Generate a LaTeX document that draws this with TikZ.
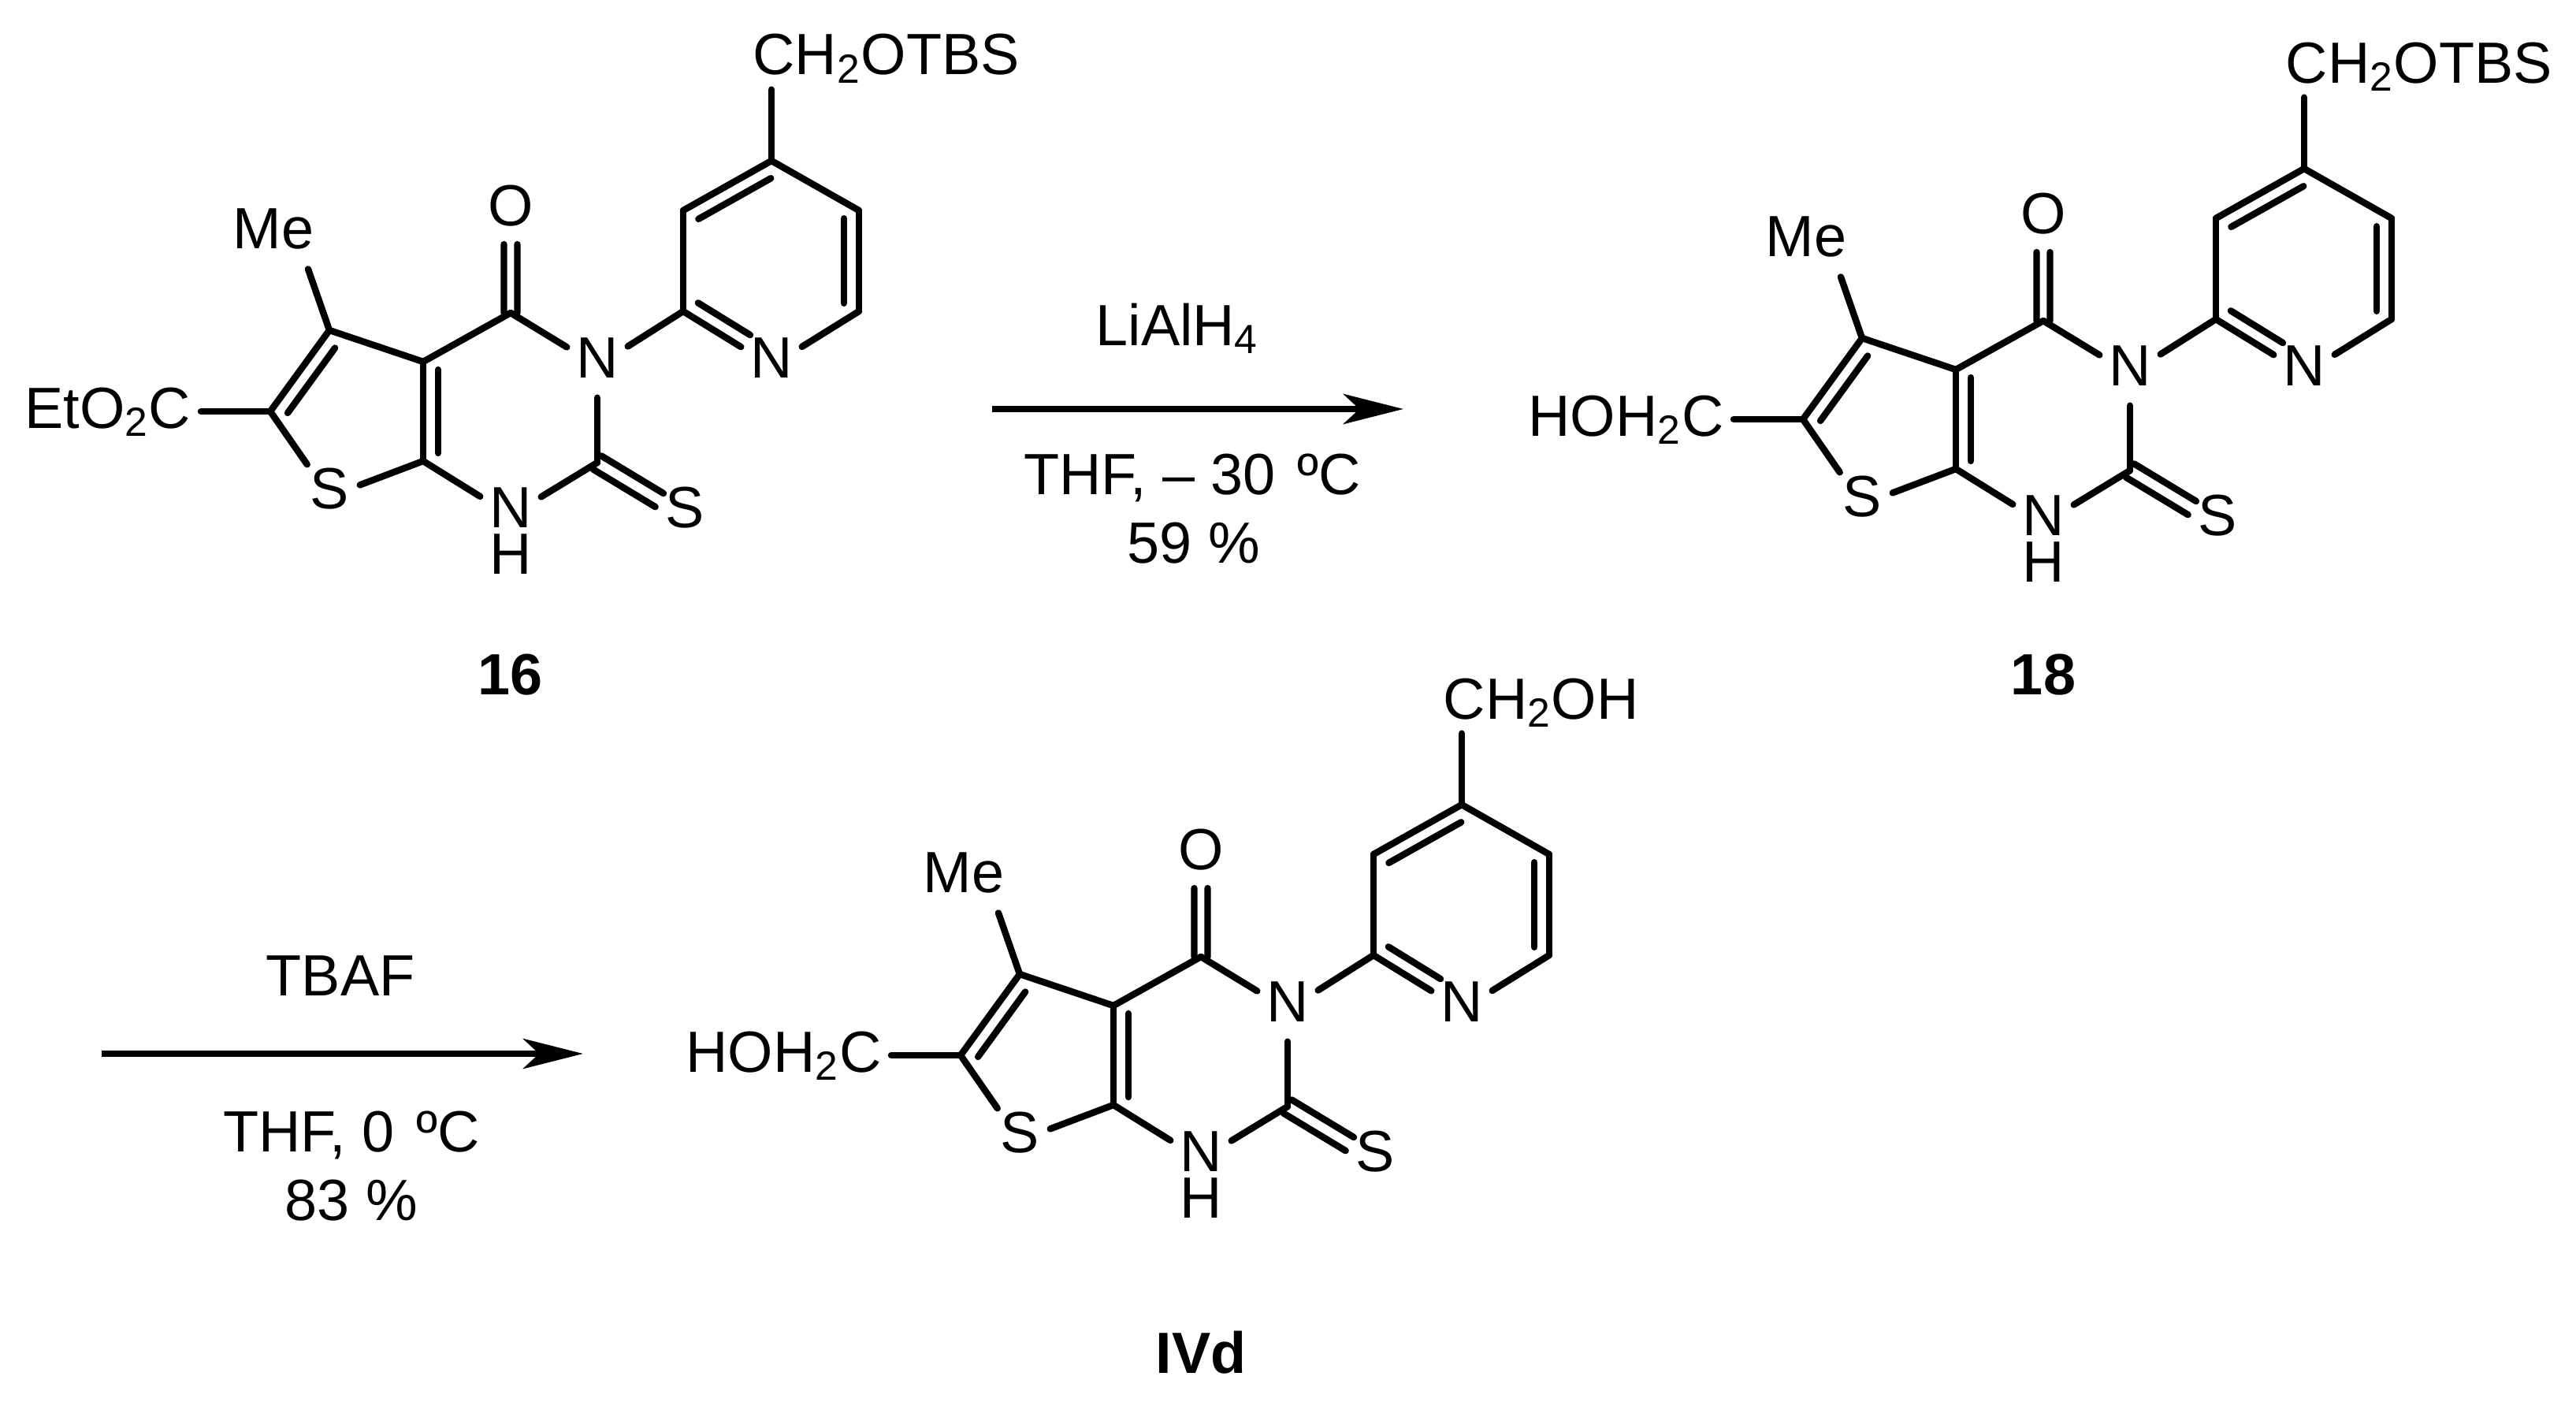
\documentclass[tikz,border=0pt]{standalone}
\usepackage{fontspec}
\setmainfont{Liberation Sans}
\usetikzlibrary{arrows.meta,calc}
\tikzset{
  txt/.style={inner sep=0pt,font=\fontsize{21}{25}\selectfont},
  atom/.style={txt,text height=0.55cm,text depth=0.25cm,minimum width=0.76cm},
  subtop/.style={txt,anchor=base west,inner xsep=0pt,inner ysep=0.07cm},
  subleft/.style={txt,anchor=base east,inner xsep=0.12cm,inner ysep=0pt},
  bond/.style={line width=2.4pt,line cap=round},
  rxn/.style={line width=2.5pt,-{Stealth[length=0.76cm,width=0.38cm,inset=0.2cm]}},
  cpd/.style={txt,anchor=base,font=\fontsize{21}{25}\selectfont\bfseries}
}
\newcommand{\sidebond}[6]{\draw[bond] ($(#1)!#3!(#2)!#6!#5:(#2)$) -- ($(#1)!#4!(#2)!#6!#5:(#2)$);}
\begin{document}
\begin{tikzpicture}
\useasboundingbox (0,0) rectangle (32.69,-17.84);
\foreach \m/\dx/\dy/\toptext/\lefttext in {a/0/0/{CH\textsubscript{2}OTBS}/{EtO\textsubscript{2}C},b/19.45/-0.1/{CH\textsubscript{2}OTBS}/{HOH\textsubscript{2}C},c/8.76/-8.17/{CH\textsubscript{2}OH}/{HOH\textsubscript{2}C}}{
\begin{scope}[shift={(\dx,\dy)}]
\coordinate (\m-py4) at (9.79,-2.04);
\coordinate (\m-py3) at (8.67,-2.67);
\coordinate (\m-py2) at (8.67,-3.95);
\coordinate (\m-py6) at (10.90,-3.95);
\coordinate (\m-py5) at (10.90,-2.67);
\coordinate (\m-c4) at (6.48,-3.97);
\coordinate (\m-c4a) at (5.37,-4.59);
\coordinate (\m-c7a) at (5.37,-5.85);
\coordinate (\m-c5) at (4.18,-4.19);
\coordinate (\m-c6) at (3.43,-5.22);
\coordinate (\m-c2) at (7.58,-5.87);
\node at (9.79,-4.64)[atom](\m-pyn){N};
\node at (7.58,-4.64)[atom](\m-n3){N};
\node at (6.48,-2.71)[atom](\m-o){O};
\node at (4.18,-6.30)[atom](\m-s1){S};
\node at (6.48,-6.54)[atom](\m-n1){N};
\node at (6.48,-7.13)[atom](\m-h1){H};
\node at (8.69,-6.54)[atom](\m-s2){S};
\node at (3.47,-3.15)[txt,anchor=base](\m-me){Me};
\node at (9.55,-0.95)[subtop](\m-top){\toptext};
\node at (2.55,-5.43)[subleft](\m-left){\lefttext};
% pyridine
\draw[bond] (\m-py4) -- (\m-py3);
\draw[bond] (\m-py3) -- (\m-py2);
\draw[bond] (\m-py2) -- (\m-pyn);
\draw[bond] (\m-pyn) -- (\m-py6);
\draw[bond] (\m-py6) -- (\m-py5);
\draw[bond] (\m-py5) -- (\m-py4);
\draw[bond] (\m-py4) -- (\m-py4 |- \m-top.south);
\sidebond{\m-py4}{\m-py3}{0.09}{0.91}{90}{0.19cm}
\sidebond{\m-py5}{\m-py6}{0.08}{0.92}{-90}{0.19cm}
\sidebond{\m-py2}{\m-pyn}{0.08}{0.67}{90}{0.19cm}
% pyrimidine
\draw[bond] (\m-py2) -- (\m-n3);
\draw[bond] (\m-n3) -- (\m-c4);
\draw[bond] (\m-c4) -- (\m-c4a);
\draw[bond] (\m-c4a) -- (\m-c7a);
\draw[bond] (\m-c7a) -- (\m-n1);
\draw[bond] (\m-n1) -- (\m-c2);
\draw[bond] (\m-c2) -- (\m-n3);
\sidebond{\m-c4a}{\m-c7a}{0.08}{0.92}{90}{0.19cm}
\sidebond{\m-c4}{\m-o}{0}{0.69}{90}{0.085cm}
\sidebond{\m-c4}{\m-o}{0}{0.69}{-90}{0.085cm}
\sidebond{\m-c2}{\m-s2}{0}{0.71}{90}{0.1cm}
\sidebond{\m-c2}{\m-s2}{0}{0.71}{-90}{0.1cm}
% thiophene
\draw[bond] (\m-c4a) -- (\m-c5);
\draw[bond] (\m-c5) -- (\m-c6);
\draw[bond] (\m-c6) -- (\m-s1);
\draw[bond] (\m-s1) -- (\m-c7a);
\sidebond{\m-c5}{\m-c6}{0.11}{0.91}{90}{0.19cm}
\draw[bond] (\m-c5) -- ($(\m-me.south)+(0.44,-0.25)$);
\draw[bond] (\m-c6) -- (\m-left.east |- \m-c6);
\end{scope}
}
\node at (6.48,-8.81)[cpd](lab16){16};
\node at (25.93,-8.81)[cpd](lab18){18};
\node at (15.24,-17.42)[cpd](labIVd){IVd};
% reactions
\coordinate (r1a) at (12.59,-5.19);
\coordinate (r1b) at (17.81,-5.19);
\draw[rxn] (r1a) -- (r1b);
\node at (14.94,-4.38)[txt,anchor=base](r1top){LiAlH\textsubscript{4}};
\node at (15.13,-6.27)[txt,anchor=base](r1low){THF, – 30\hspace{0.07cm} ºC};
\node at (15.15,-7.14)[txt,anchor=base](r1yld){59 \%};
\coordinate (r2a) at (1.29,-13.37);
\coordinate (r2b) at (7.40,-13.37);
\draw[rxn] (r2a) -- (r2b);
\node at (4.32,-12.63)[txt,anchor=base](r2top){TBAF};
\node at (4.46,-14.61)[txt,anchor=base](r2low){THF, 0\hspace{0.07cm} ºC};
\node at (4.46,-15.48)[txt,anchor=base](r2yld){83 \%};
\end{tikzpicture}
\end{document}
